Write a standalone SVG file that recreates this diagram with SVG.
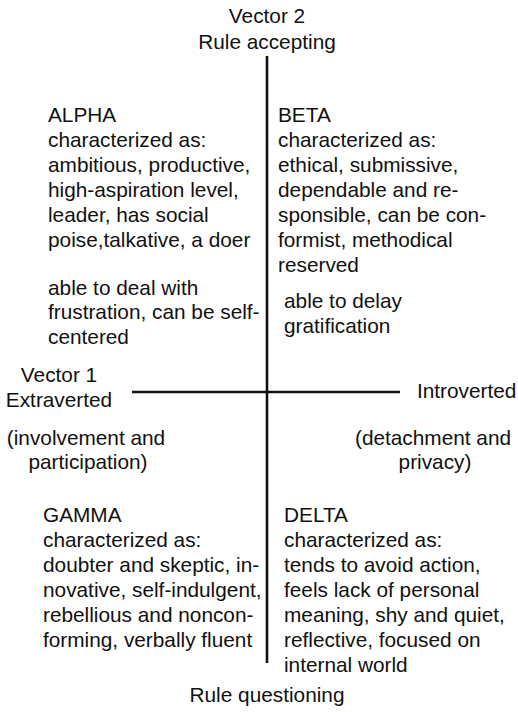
<svg xmlns="http://www.w3.org/2000/svg" width="518" height="712" viewBox="0 0 518 712">
<style>
text{font-family:"Liberation Sans",Arial,sans-serif;font-size:20.8px;fill:#111}
.c{text-anchor:middle}
.ax{stroke:#111;stroke-width:2.6;fill:none}
</style>
<rect width="518" height="712" fill="#fff"/>
<g id="connectors">
<line class="ax" x1="267" y1="56" x2="267" y2="663"/>
<line class="ax" x1="132" y1="392" x2="400" y2="392"/>
</g>
<g id="vector2">
<text class="c" x="267" y="23">Vector 2</text>
<text class="c" x="267" y="49">Rule accepting</text>
</g>
<g id="rule-questioning">
<text class="c" x="267" y="702">Rule questioning</text>
</g>
<g id="vector1">
<text class="c" x="59" y="382">Vector 1</text>
<text class="c" x="59" y="407">Extraverted</text>
</g>
<g id="introverted">
<text x="417" y="398">Introverted</text>
</g>
<g id="involvement">
<text class="c" x="86" y="445">(involvement and</text>
<text class="c" x="88" y="469">participation)</text>
</g>
<g id="detachment">
<text class="c" x="433" y="445">(detachment and</text>
<text class="c" x="435" y="469">privacy)</text>
</g>
<g id="alpha">
<text x="48" y="122">ALPHA</text>
<text x="48" y="147">characterized as:</text>
<text x="48" y="172">ambitious, productive,</text>
<text x="48" y="197">high-aspiration level,</text>
<text x="48" y="222">leader, has social</text>
<text x="48" y="247">poise,talkative, a doer</text>
<text x="48" y="295">able to deal with</text>
<text x="48" y="319">frustration, can be self-</text>
<text x="48" y="344">centered</text>
</g>
<g id="beta">
<text x="278" y="122">BETA</text>
<text x="278" y="147">characterized as:</text>
<text x="278" y="172">ethical, submissive,</text>
<text x="278" y="197">dependable and re-</text>
<text x="278" y="222">sponsible, can be con-</text>
<text x="278" y="247">formist, methodical</text>
<text x="278" y="272">reserved</text>
<text x="284" y="308">able to delay</text>
<text x="284" y="333">gratification</text>
</g>
<g id="gamma">
<text x="43" y="522">GAMMA</text>
<text x="43" y="547">characterized as:</text>
<text x="43" y="572">doubter and skeptic, in-</text>
<text x="43" y="597">novative, self-indulgent,</text>
<text x="43" y="622">rebellious and noncon-</text>
<text x="43" y="647">forming, verbally fluent</text>
</g>
<g id="delta">
<text x="284" y="522">DELTA</text>
<text x="284" y="547">characterized as:</text>
<text x="284" y="572">tends to avoid action,</text>
<text x="284" y="597">feels lack of personal</text>
<text x="284" y="622">meaning, shy and quiet,</text>
<text x="284" y="647">reflective, focused on</text>
<text x="284" y="672">internal world</text>
</g>
</svg>
